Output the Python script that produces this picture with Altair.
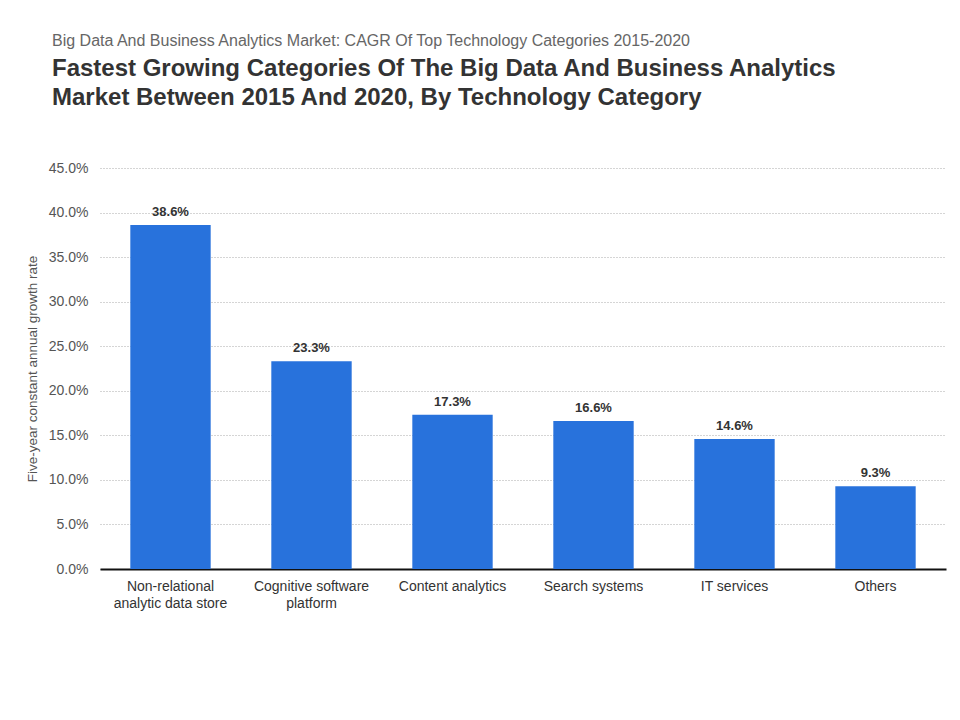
import altair as alt
import pandas as pd

categories = ["Non-relational|analytic data store", "Cognitive software|platform",
              "Content analytics", "Search systems", "IT services", "Others"]
values = [0.386, 0.233, 0.173, 0.166, 0.146, 0.093]
y_ticks = [0.0, 0.05, 0.10, 0.15, 0.20, 0.25, 0.30, 0.35, 0.40, 0.45]

df = pd.DataFrame({"category": categories, "value": values})

FONT = "Liberation Sans"
BLUE = "#2872dc"

base = alt.Chart(df).encode(
    x=alt.X("category:N", sort=categories, title=None,
            scale=alt.Scale(paddingInner=0.43, paddingOuter=0.215),
            axis=alt.Axis(labelAngle=0, labelExpr="split(datum.label, '|')",
                          labelFont=FONT, labelFontSize=14, labelColor="#333333",
                          labelPadding=10, ticks=False, domainColor="#111111",
                          domainWidth=2, grid=False, labelLineHeight=17)),
    y=alt.Y("value:Q", title="Five-year constant annual growth rate",
            scale=alt.Scale(domain=[0, 0.45], nice=False),
            axis=alt.Axis(values=y_ticks, format=".1%", labelFont=FONT,
                          labelFontSize=14, labelColor="#555555", labelPadding=12,
                          ticks=False, domain=False, grid=True, gridDash=[1, 2],
                          gridColor="#aaaaaa", titleFont=FONT, titleFontSize=13.5,
                          titleFontWeight="normal", titleColor="#555555",
                          titlePadding=9)),
)

bars = base.mark_bar(color=BLUE)
labels = base.mark_text(baseline="bottom", dy=-6, font=FONT, fontSize=13,
                        fontWeight="bold", color="#333333").encode(
    text=alt.Text("value:Q", format=".1%"))

chart = (bars + labels).properties(
    width=846, height=401,
    background="white",
    autosize=alt.AutoSizeParams(type="none"),
    padding={"left": 92, "top": 160, "right": 6, "bottom": 120},
    title=alt.TitleParams(
        text="Big Data And Business Analytics Market: CAGR Of Top Technology Categories 2015-2020",
        subtitle=["Fastest Growing Categories Of The Big Data And Business Analytics",
                  "Market Between 2015 And 2020, By Technology Category"],
        font=FONT, fontSize=16, fontWeight="normal", color="#666666",
        subtitleFont=FONT, subtitleFontSize=24, subtitleFontWeight="bold",
        subtitleColor="#333333", subtitleLineHeight=29, subtitlePadding=8,
        anchor="start", frame="group", dx=-48, offset=51),
).configure_view(stroke=None)

chart.save("out.html", embed_options={"renderer": "svg", "actions": False})
